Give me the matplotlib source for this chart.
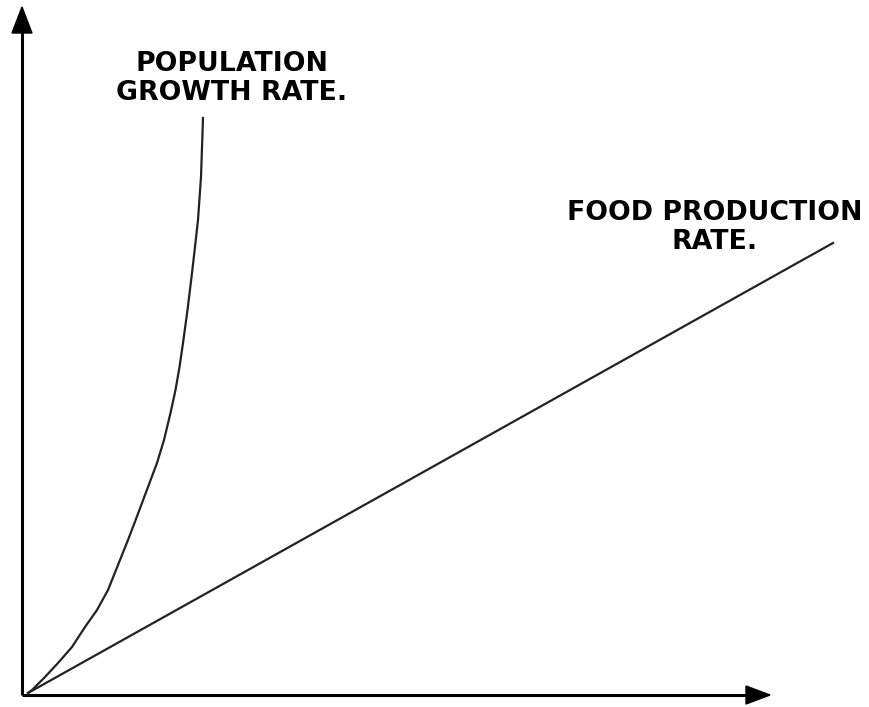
import matplotlib
matplotlib.use("Agg")
import matplotlib.pyplot as plt
from matplotlib.patches import Polygon

# Population growth rate curve
pop_x = [0, 4, 17, 30, 44, 57, 69, 80, 92, 100, 106.5, 112.5, 120, 129, 136, 142.5, 147.5,
         151.5, 155, 159.5, 164, 167, 170, 173, 175]
pop_y = [0, 3, 16, 30, 46, 66, 83, 103, 133, 153, 170, 186, 206, 230, 253, 280, 303,
         326, 350, 383, 420, 446, 473, 516, 575]

# Food production rate line
food_x = [0, 805]
food_y = [0, 450]

labels = ["POPULATION\nGROWTH RATE.", "FOOD PRODUCTION\nRATE."]

W, H = 870, 707
fig = plt.figure(figsize=(W / 100, H / 100), dpi=100)
ax = fig.add_axes([0, 0, 1, 1])
ax.set_xlim(-28, W - 28)
ax.set_ylim(-14, H - 14)
ax.axis("off")

# axes lines
ax.plot([-6, -6], [-2, 665], color="black", lw=2.2, solid_capstyle="butt")
ax.plot([-6, 720], [-2, -2], color="black", lw=2.2, solid_capstyle="butt")
# arrowheads
ax.add_patch(Polygon([[-16, 660], [4, 660], [-6, 686]], closed=True, color="black"))
ax.add_patch(Polygon([[718, 7], [718, -11], [742, -2]], closed=True, color="black"))

ax.plot(pop_x, pop_y, color="#222222", lw=1.6)
ax.plot(food_x, food_y, color="#222222", lw=1.6)

font = dict(family="DejaVu Sans", fontweight="bold", fontsize=19.3, color="black",
            ha="center", va="center", linespacing=1.13)
ax.text(204, 614.5, labels[0], **font)
ax.text(686.5, 465.5, labels[1], **font)

fig.savefig("out.png", dpi=100)
